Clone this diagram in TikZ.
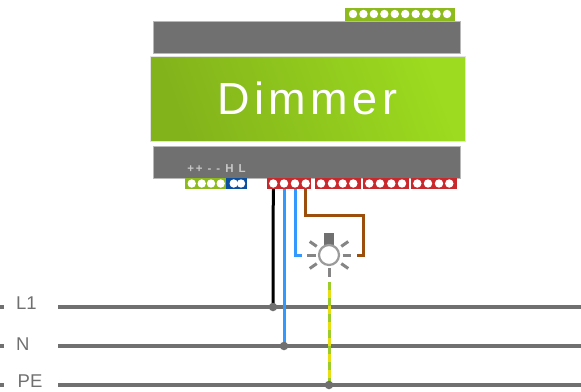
\documentclass[tikz,border=0pt]{standalone}
\usepackage{fontspec}
\setmainfont{Liberation Sans}
\usetikzlibrary{backgrounds}
\definecolor{housegrey}{HTML}{707070}
\definecolor{edgegrey}{HTML}{B8B8B8}
\definecolor{termgreen}{HTML}{8DBB1E}
\definecolor{frontdark}{HTML}{83B31B}
\definecolor{frontlight}{HTML}{9CDB1F}
\definecolor{termblue}{HTML}{0B4FA0}
\definecolor{termred}{HTML}{C9282D}
\definecolor{wireblue}{HTML}{3399FF}
\definecolor{wirebrown}{HTML}{9C4F0C}
\definecolor{pegreen}{HTML}{9CCB2C}
\definecolor{peyellow}{HTML}{E6DE10}
\definecolor{labelgrey}{HTML}{707070}
\tikzset{
  x=1pt,y=-1pt,
  housing/.style={draw=edgegrey,line width=1pt,fill=housegrey,inner sep=0pt,minimum width=307pt,minimum height=32pt},
  strip/.style={inner sep=0pt,minimum height=11.5pt},
  hole/.style={circle,fill=white,inner sep=0pt,minimum size=8.4pt},
  busline/.style={draw=housegrey,line width=3.6pt},
  wire/.style={line width=3pt},
  junction/.style={circle,fill=housegrey,inner sep=0pt,minimum size=8.5pt},
  ray/.style={draw=housegrey!85!white,line width=3pt},
  buslabel/.style={text=labelgrey,font=\fontsize{18.5}{18.5}\selectfont,inner sep=0pt,anchor=west},
}
\begin{document}
\begin{tikzpicture}
\useasboundingbox (0,0) rectangle (581,391);
% housing
\node[housing] (top) at (307.3,37) {};
\node[housing] (bot) at (307.3,162) {};
\node[draw=edgegrey!40!white,line width=.8pt,inner sep=0pt,minimum width=315pt,minimum height=85pt,
      shading=axis,left color=frontdark,right color=frontlight,shading angle=110,
      text=white,font=\fontsize{45}{45}\selectfont\addfontfeature{LetterSpace=10}] (front) at (307.5,98.5) {Dimmer};
% top terminal
\node[strip,fill=termgreen,minimum width=110pt,minimum height=13pt] (tstrip) at (400,14.5) {};
\foreach \i in {0,...,9} \node[hole] (t\i) at ({353+\i*10.45},14) {};
% bottom terminals
\node[strip,fill=termgreen,minimum width=41pt] (gstrip) at (205.5,183.5) {};
\node[strip,fill=termblue,minimum width=21pt] (bstrip) at (236.5,183.5) {};
\node[strip,fill=termred,minimum width=44pt] (r1) at (289,183.5) {};
\node[strip,fill=termred,minimum width=46pt] (r2) at (337.7,183.5) {};
\node[strip,fill=termred,minimum width=46pt] (r3) at (386,183.5) {};
\node[strip,fill=termred,minimum width=46pt] (r4) at (433.8,183.5) {};
\foreach \n/\x in {g1/191.7,g2/201.7,g3/211,g4/220.7,b1/233.7,b2/241,
  a1/273.3,a2/284,a3/295,a4/305.7,
  c1/321,c2/332,c3/342.7,c4/353.3,
  d1/369.3,d2/380,d3/391.3,d4/402,
  e1/417.3,e2/428,e3/439,e4/449.3}
  \node[hole] (\n) at (\x,183.5) {};
\node[text=white!78!black,inner sep=0pt,font=\bfseries\fontsize{11.5}{11.5}\selectfont\addfontfeature{LetterSpace=16}] (pinlabels) at (216.5,168.5) {++ - - H L};
% lamp
\node[fill=housegrey,inner sep=0pt,minimum width=10pt,minimum height=12pt] (lampbase) at (329,239) {};
\node[circle,draw=housegrey!70!white,line width=2.2pt,fill=white,inner sep=0pt,minimum size=20pt] (lamp) at (329,255) {};
\foreach \a in {0,180}
  \draw[ray] (lamp.center) ++(\a:13.5) -- ++(\a:8.5);
\draw[ray] (lamp.center) ++(0,13) -- ++(0,8.5);
\foreach \a in {35,145,215,325}
  \draw[ray] (lamp.center) ++(\a:15) -- ++(\a:8.5);
% bus
\coordinate (l1w) at (58,307); \coordinate (l1e) at (581,307);
\coordinate (nw) at (58,346); \coordinate (ne) at (581,346);
\coordinate (pw) at (58,385); \coordinate (pe) at (581,385);
\node[buslabel] (L1) at (16,303.5) {L1};
\node[buslabel] (N) at (16,344) {N};
\node[buslabel] (PE) at (17.5,381.5) {PE};
\coordinate (m1a) at (0,307); \coordinate (m1b) at (4,307);
\coordinate (m2a) at (0,346); \coordinate (m2b) at (4,346);
\coordinate (m3a) at (0,385); \coordinate (m3b) at (4,385);
\node[junction] (j1) at (273,307) {};
\node[junction] (j2) at (284,346) {};
\node[junction] (j3) at (329,385) {};
\coordinate (lampL) at (301.7,255);
\coordinate (lampR) at (356.5,255);
\coordinate (peTop) at (329,282);
\begin{scope}[on background layer]
  \draw[busline] (l1w) -- (l1e);
  \draw[busline] (nw) -- (ne);
  \draw[busline] (pw) -- (pe);
  \draw[busline] (m1a) -- (m1b);
  \draw[busline] (m2a) -- (m2b);
  \draw[busline] (m3a) -- (m3b);
  \draw[wire,black] (a1.center) -- (j1.center);
  \draw[wire,wireblue] (a2.center) -- (j2.center);
  \draw[wire,wireblue] (a3.center) |- (lampL);
  \draw[wire,wirebrown] (a4.center) -- ++(0,31.5) -| (363.3,255) -- (lampR);
  \draw[wire,peyellow] (peTop) -- (j3.center);
  \draw[wire,pegreen,dash pattern=on 8pt off 8pt] (peTop) -- (j3.center);
\end{scope}
\end{tikzpicture}
\end{document}
